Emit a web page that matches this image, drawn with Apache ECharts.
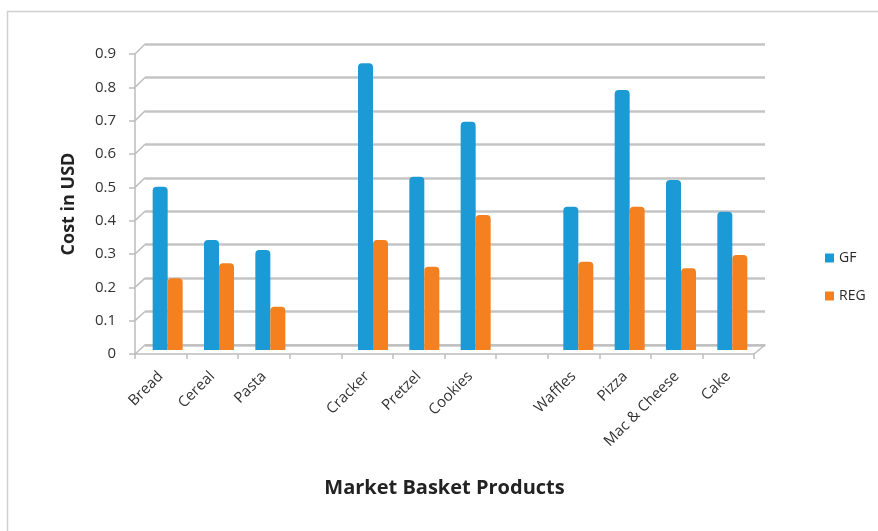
<!DOCTYPE html>
<html><head><meta charset="utf-8">
<script src="https://cdn.jsdelivr.net/npm/echarts@6/dist/echarts.min.js"></script>
<style>html,body{margin:0;padding:0;background:#fff}#c{width:878px;height:531px}</style>
</head><body><div id="c"></div>
<script>
const categories = ['Bread','Cereal','Pasta','','Cracker','Pretzel','Cookies','','Waffles','Pizza','Mac & Cheese','Cake'];
const gfValues  = [0.49, 0.33, 0.30, null, 0.86, 0.52, 0.685, null, 0.43, 0.78, 0.51, 0.415];
const regValues = [0.215, 0.26, 0.13, null, 0.33, 0.25, 0.405, null, 0.265, 0.43, 0.245, 0.285];
const yTicks = [0, 0.1, 0.2, 0.3, 0.4, 0.5, 0.6, 0.7, 0.8, 0.9];
const seriesNames = ['GF', 'REG'];

const yMin = yTicks[0], yMax = yTicks[yTicks.length - 1], yStep = 0.1;
const chart = echarts.init(document.getElementById('c'));
const font = 'Open Sans, Liberation Sans, Arial, sans-serif';
const frontGrid = { left: 135, right: 124, top: 54, bottom: 177 };
const backGrid  = { left: 145, right: 113, top: 44, bottom: 186 };
const barGrid   = { left: 142, right: 120, top: 50, bottom: 181 };
const edge = '#bdbdbd';

chart.setOption({
  animation: false,
  textStyle: { fontFamily: font },
  legend: {
    orient: 'vertical', left: 820, top: 246, itemGap: 24,
    itemWidth: 9, itemHeight: 9, icon: 'rect',
    textStyle: { fontSize: 14, color: '#2a2a2a', fontFamily: font },
    data: seriesNames
  },
  grid: [frontGrid, backGrid, barGrid],
  xAxis: [
    { type: 'category', gridIndex: 0, data: categories,
      axisLine: { lineStyle: { color: edge, width: 1.5 } },
      axisTick: { show: true, interval: 0, length: 5, lineStyle: { color: edge, width: 1.5 } },
      axisLabel: { interval: 0, rotate: 45, fontSize: 15, color: '#333', margin: 20, fontFamily: font },
      name: 'Market Basket Products', nameLocation: 'middle', nameGap: 124,
      nameTextStyle: { fontSize: 20, fontWeight: 'bold', color: '#222', fontFamily: font }
    },
    { type: 'category', gridIndex: 1, data: categories,
      axisLine: { lineStyle: { color: edge, width: 1.5 } },
      axisTick: { show: false }, axisLabel: { show: false }
    },
    { type: 'category', gridIndex: 2, data: categories, show: false }
  ],
  yAxis: [
    { type: 'value', gridIndex: 0, min: yMin, max: yMax, interval: yStep,
      axisLine: { show: true, lineStyle: { color: edge, width: 1.5 } }, splitLine: { show: false },
      axisTick: { show: true, length: 6, lineStyle: { color: edge, width: 1.5 } },
      axisLabel: { fontSize: 15, color: '#333', margin: 19, fontFamily: font, formatter: v => String(+v.toFixed(1)) },
      name: 'Cost in USD', nameLocation: 'middle', nameGap: 57, nameRotate: 90,
      nameTextStyle: { fontSize: 18, fontWeight: 'bold', color: '#222', fontFamily: font }
    },
    { type: 'value', gridIndex: 1, min: yMin, max: yMax, interval: yStep,
      axisLine: { show: false },
      axisTick: { show: false }, axisLabel: { show: false },
      splitLine: { show: true, lineStyle: { color: '#c4c4c4', width: 2.5 } }
    },
    { type: 'value', gridIndex: 2, min: yMin, max: yMax, interval: yStep, show: false, splitLine: { show: false } }
  ],
  series: [
    { name: seriesNames[0], type: 'bar', xAxisIndex: 2, yAxisIndex: 2, data: gfValues,
      barWidth: 15, barGap: '0%',
      itemStyle: { color: '#1c9ad6', borderRadius: [4, 4, 0, 0] } },
    { name: seriesNames[1], type: 'bar', xAxisIndex: 2, yAxisIndex: 2, data: regValues,
      barWidth: 15, barGap: '0%',
      itemStyle: { color: '#f5801f', borderRadius: [4, 4, 0, 0] } }
  ]
});

// 3D-style connectors: front axis ticks to back wall gridlines, plus frame
const W = chart.getWidth(), H = chart.getHeight();
const g = [
  { type: 'polyline', shape: { points: [[7.5, H + 10], [7.5, 11.5], [W + 10, 11.5]] }, style: { fill: null, stroke: '#d0d0d0', lineWidth: 1.5 }, silent: true }
];
yTicks.forEach(v => {
  const yf = chart.convertToPixel({ yAxisIndex: 0 }, v);
  const yb = chart.convertToPixel({ yAxisIndex: 1 }, v);
  g.push({ type: 'line', shape: { x1: frontGrid.left, y1: yf, x2: backGrid.left, y2: yb }, style: { stroke: edge, lineWidth: 1.5 }, silent: true });
});
{
  const yf = chart.convertToPixel({ yAxisIndex: 0 }, yMin);
  const yb = chart.convertToPixel({ yAxisIndex: 1 }, yMin);
  g.push({ type: 'line', shape: { x1: W - frontGrid.right, y1: yf, x2: W - backGrid.right, y2: yb }, style: { stroke: edge, lineWidth: 1.5 }, silent: true });
}
chart.setOption({ graphic: g });
</script></body></html>
